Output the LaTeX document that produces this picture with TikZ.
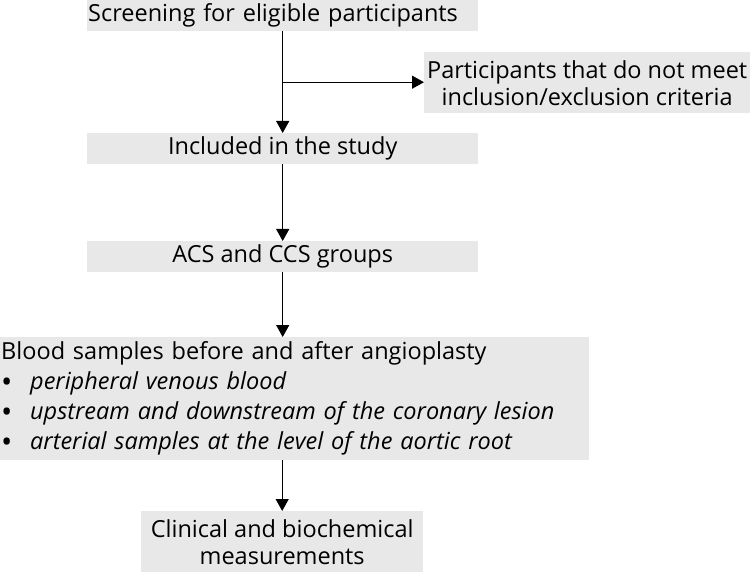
\documentclass[tikz,border=0pt]{standalone}
\usepackage{fontspec}
\setmainfont{Open Sans}
\usetikzlibrary{arrows.meta,positioning,calc}
\definecolor{BoxGray}{HTML}{E8E8E8}
\newcommand{\boxfont}{\fontsize{23.5}{27}\selectfont}
\newcommand{\bulletitem}[1]{\makebox[29pt][l]{\raisebox{-2.5pt}{\fontsize{30}{30}\selectfont\textbullet}}\textit{#1}}

\begin{document}
\begin{tikzpicture}[x=1pt,y=-1pt,
  box/.style={fill=BoxGray,inner sep=0pt,font=\boxfont,anchor=north west},
  flow/.style={-{Triangle[length=12pt,width=13pt]},line width=1.2pt}]
  \useasboundingbox (0,0) rectangle (750,572);
  \node[box,minimum width=391pt,minimum height=31pt,text width=389pt,align=left,inner xsep=1pt] (screen) at (87,0) {Screening for eligible participants};
  \node[box,minimum width=326pt,minimum height=61pt,align=center] (excluded) at (424,52) {Participants that do not meet\\inclusion/exclusion criteria};
  \node[box,minimum width=391pt,minimum height=31pt,align=center] (included) at (87,133) {Included in the study};
  \node[box,minimum width=391pt,minimum height=31pt,align=center] (groups) at (87,241) {ACS and CCS groups};
  \node[box,minimum width=589pt,minimum height=123pt,text width=587pt,align=left,inner xsep=1pt,font=\fontsize{23.5}{30}\selectfont] (blood) at (0,337)
    {Blood samples before and after angioplasty\\
     \bulletitem{peripheral venous blood}\\
     \bulletitem{upstream and downstream of the coronary lesion}\\
     \bulletitem{arterial samples at the level of the aortic root}};
  \node[box,minimum width=282pt,minimum height=61pt,align=center] (measures) at (141,511) {Clinical and biochemical\\measurements};
  \coordinate (split) at ($(screen.south)!0.5!(included.north)$);
  \draw[flow] (screen.south) -- (included.north);
  \draw[flow] (split) -- (split -| excluded.west);
  \draw[flow] (included.south) -- (groups.north);
  \draw[flow] (groups.south) -- (groups.south |- blood.north);
  \draw[flow] (measures.north |- blood.south) -- (measures.north);
\end{tikzpicture}
\end{document}
